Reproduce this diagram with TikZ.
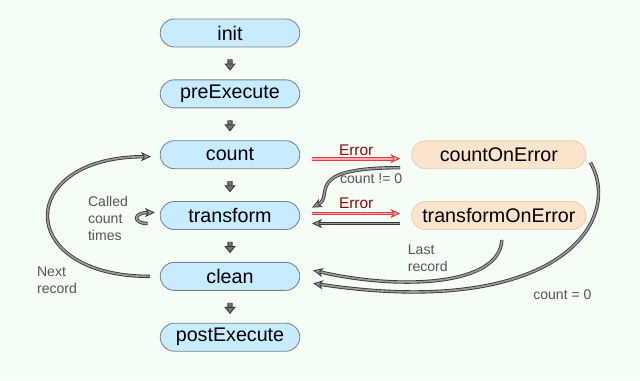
\documentclass[tikz,border=0pt]{standalone}
\usepackage{fontspec}
\setmainfont{Liberation Sans}
\usetikzlibrary{positioning}
\usetikzlibrary{arrows.meta}
\usetikzlibrary{shapes.misc}
\definecolor{figFondo}{RGB}{245,254,245}
\definecolor{figAzul}{RGB}{200,236,255}
\definecolor{figAzulBorde}{RGB}{120,130,140}
\definecolor{figNaranja}{RGB}{251,228,204}
\definecolor{figNaranjaBorde}{RGB}{232,208,180}
\definecolor{figGris}{RGB}{155,155,155}
\definecolor{figGrisOsc}{RGB}{115,115,115}
\definecolor{figGrisBorde}{RGB}{55,55,55}
\definecolor{figRojo}{RGB}{255,170,175}
\definecolor{figRojoBorde}{RGB}{225,60,65}
\definecolor{figRojoTexto}{RGB}{140,10,10}
\definecolor{figTexto}{RGB}{85,85,85}
\tikzset{
  paso/.style={
    rounded rectangle, draw=figAzulBorde, line width=0.6pt,
    fill=figAzul, minimum height=0.7cm, minimum width=3.63cm,
    font=\fontsize{14}{16}\selectfont, inner sep=2pt
  },
  pasoe/.style={
    paso, draw=figNaranjaBorde, fill=figNaranja, minimum width=4.5cm
  },
  flechita/.style={
    double, double distance=2.4pt, line width=0.6pt, draw=figGrisBorde,
    double=figGrisOsc, -{Triangle[length=5pt,width=8pt,fill=figGrisOsc]},
    shorten <=0.3cm, shorten >=0.22cm
  },
  flecha/.style={
    double, double distance=1.2pt, line width=0.6pt, draw=figGrisBorde,
    double=figGris, -{Stealth[length=7pt,width=6.5pt,inset=2pt,fill=figGris]}
  },
  flechar/.style={
    double, double distance=1.2pt, line width=0.7pt, draw=figRojoBorde,
    double=figRojo, -{Stealth[length=7pt,width=6.5pt,inset=2pt,fill=figRojo]}
  },
  etiqueta/.style={
    font=\fontsize{10}{12}\selectfont, text=figTexto, align=left, inner sep=0pt
  },
  etiquetar/.style={
    font=\fontsize{11}{13}\selectfont, text=figRojoTexto, inner sep=1pt
  }
}
\begin{document}
\begin{tikzpicture}[node distance=0.8cm and 2.775cm]
  \fill[figFondo] (0,0) rectangle (16,9.5);
  \node[paso] (init) at (5.75,8.675) {init};
  \node[paso, below=of init] (preExecute) {preExecute};
  \node[paso, below=of preExecute] (count) {count};
  \node[paso, below=of count] (transform) {transform};
  \node[paso, below=of transform] (clean) {clean};
  \node[paso, below=of clean] (postExecute) {postExecute};
  \node[pasoe, right=of count] (countOnError) {countOnError};
  \node[pasoe, right=of transform] (transformOnError) {transformOnError};
  \draw[flechita] (init) -- (preExecute);
  \draw[flechita] (preExecute) -- (count);
  \draw[flechita] (count) -- (transform);
  \draw[flechita] (transform) -- (clean);
  \draw[flechita] (clean) -- (postExecute);
  % errores
  \draw[flechar] ([xshift=0.3cm,yshift=-0.1cm]count.east) -- node[etiquetar, above=1pt] {Error} ([xshift=-0.275cm,yshift=-0.1cm]countOnError.west);
  \draw[flechar] ([xshift=0.3cm,yshift=0.05cm]transform.east) -- node[etiquetar, above=2pt] {Error} ([xshift=-0.275cm,yshift=0.05cm]transformOnError.west);
  \draw[flecha] ([xshift=-0.275cm,yshift=-0.2cm]transformOnError.west) -- ([xshift=0.3cm,yshift=-0.2cm]transform.east);
  \draw[flecha] ([xshift=-0.275cm,yshift=-0.325cm]countOnError.west) .. controls +(-2.5,0) and +(0.575,0.3) .. ([xshift=0.3cm,yshift=0.2cm]transform.east);
  \node[etiqueta] (distinto) at ([xshift=-1cm,yshift=-0.6cm]countOnError.west) {count != 0};
  % vuelta a clean
  \draw[flecha] ([xshift=0.075cm,yshift=-0.25cm]transformOnError.south) .. controls +(-0.05,-1.15) and +(2.175,-0.5) .. ([xshift=0.325cm,yshift=0.15cm]clean.east);
  \node[etiqueta] (ultimo) at ([xshift=-1.775cm,yshift=-0.7cm]transformOnError.south) {Last\\record};
  \draw[flecha] ([xshift=0.1cm,yshift=-0.2cm]countOnError.east) .. controls +(0.825,-1.425) and +(6.175,-0.925) .. ([xshift=0.325cm,yshift=-0.175cm]clean.east);
  \node[etiqueta] (cero) at ([xshift=-0.6cm,yshift=-1.975cm]transformOnError.east) {count = 0};
  % bucles
  \draw[flecha] ([xshift=-0.25cm]clean.west) .. controls +(-3.4,0) and +(-3.4,0) .. ([xshift=-0.225cm,yshift=-0.05cm]count.west);
  \node[etiqueta, anchor=west] (siguiente) at ([xshift=-3.075cm,yshift=-0.1cm]clean.west) {Next\\record};
  \draw[flecha] ([xshift=-0.3cm,yshift=-0.2cm]transform.west) .. controls +(-0.375,0) and +(-0.55,0) .. ([xshift=-0.125cm,yshift=0.075cm]transform.west);
  \node[etiqueta, anchor=west] (veces) at ([xshift=-1.8cm,yshift=-0.075cm]transform.west) {Called\\count\\times};
\end{tikzpicture}
\end{document}
